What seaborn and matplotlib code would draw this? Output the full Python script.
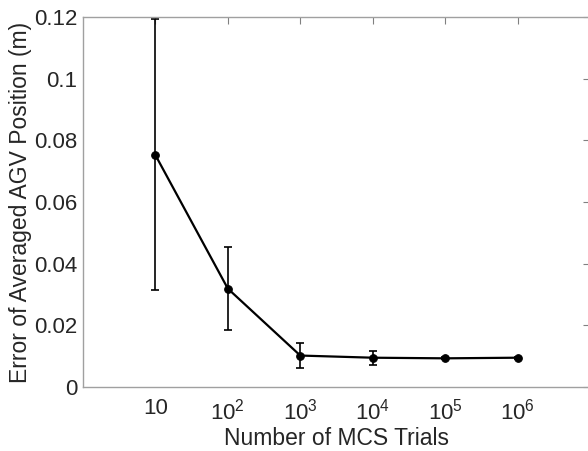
import matplotlib
matplotlib.use("Agg")
import matplotlib.pyplot as plt
import seaborn as sns
import pandas as pd
import numpy as np
from matplotlib.ticker import FixedLocator, FixedFormatter, NullLocator

trials = [10, 100, 1000, 10000, 100000, 1000000]
error_mean = [0.0752, 0.0319, 0.0102, 0.0095, 0.0093, 0.0095]
error_low = [0.0313, 0.0185, 0.0063, 0.0072, 0.0090, 0.0092]
error_high = [0.1195, 0.0455, 0.0143, 0.0118, 0.0096, 0.0098]

xticks = [10, 100, 1000, 10000, 100000, 1000000]
xticklabels = ['10', '$10^{2}$', '$10^{3}$', '$10^{4}$', '$10^{5}$', '$10^{6}$']
yticks = [0, 0.02, 0.04, 0.06, 0.08, 0.10, 0.12]
yticklabels = ['0', '0.02', '0.04', '0.06', '0.08', '0.1', '0.12']

sns.set_style("white")
plt.rcParams['font.family'] = ['Liberation Sans', 'DejaVu Sans']
plt.rcParams['mathtext.fontset'] = 'custom'
plt.rcParams['mathtext.rm'] = 'Liberation Sans'
plt.rcParams['mathtext.it'] = 'Liberation Sans'

df = pd.DataFrame({'trials': trials, 'err': error_mean})

fig = plt.figure(figsize=(5.88, 4.51), dpi=100)
ax = fig.add_axes([83/588, 64/451, 507/588, 370/451])

lo = np.array(error_mean) - np.array(error_low)
hi = np.array(error_high) - np.array(error_mean)
ax.errorbar(trials, error_mean, yerr=[lo, hi], fmt='none', ecolor='black',
            elinewidth=1.2, capsize=3, capthick=1.2, zorder=2)
sns.lineplot(data=df, x='trials', y='err', ax=ax, color='black', linewidth=1.6,
             marker='o', markersize=5.5, markeredgecolor='black', zorder=3)

ax.set_xscale('log')
ax.set_xlim(1, 1e7)
ax.set_ylim(0, 0.12)
ax.xaxis.set_major_locator(FixedLocator(xticks))
ax.xaxis.set_major_formatter(FixedFormatter(xticklabels))
ax.xaxis.set_minor_locator(NullLocator())
ax.yaxis.set_major_locator(FixedLocator(yticks))
ax.yaxis.set_major_formatter(FixedFormatter(yticklabels))

gray = '#262626'
for s in ax.spines.values():
    s.set_color('#a0a0a0')
    s.set_linewidth(1.0)
ax.tick_params(direction='in', top=True, right=True, length=5, width=0.8,
               color='#808080', labelsize=16, labelcolor=gray)
ax.tick_params(axis='y', pad=4)
ax.tick_params(axis='x', pad=8)
ax.set_xlabel('Number of MCS Trials', fontsize=16.5, color=gray, labelpad=2)
ax.set_ylabel('Error of Averaged AGV Position (m)', fontsize=16.5, color=gray)
ax.yaxis.set_label_coords(-0.10, 0.5)

fig.savefig('out.png', dpi=100)
